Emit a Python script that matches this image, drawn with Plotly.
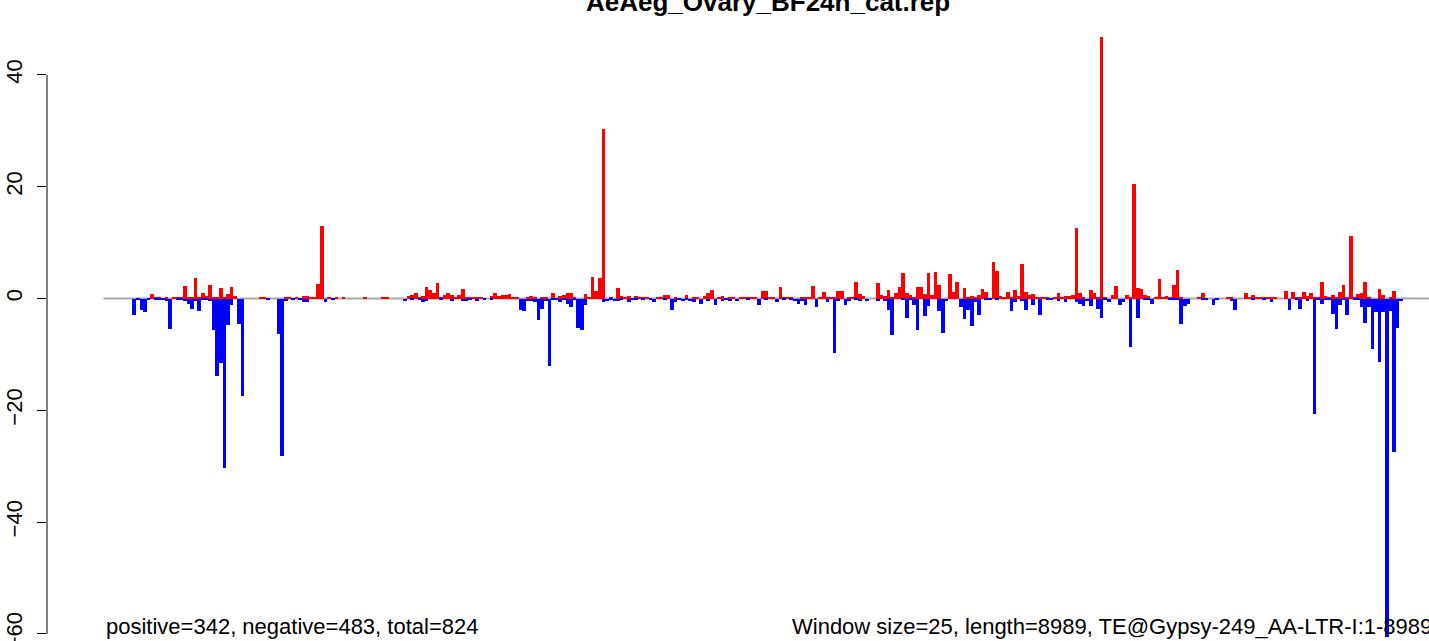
import plotly.graph_objects as go

# ---- data ----
title_text = "AeAeg_Ovary_BF24h_cat.rep"
left_note = "positive=342, negative=483, total=824"
right_note = "Window size=25, length=8989, TE@Gypsy-249_AA-LTR-I:1-8989"
y_tick_vals = [-60, -40, -20, 0, 20, 40]
y_tick_text = ["\u221260", "\u221240", "\u221220", "0", "20", "40"]
n_windows = 360

# sparse readings: window index -> value
pos_readings = {
    13: 0.8, 14: 0.3, 15: 0.2, 17: 0.2, 19: 0.2, 20: 0.2, 21: 0.3, 22: 2.3, 23: 0.2, 24: 0.3,
    25: 3.7, 26: 0.2, 27: 1.0, 28: 0.5, 29: 2.4, 30: 0.3, 31: 0.3, 32: 1.9, 33: 0.2, 34: 0.8,
    35: 2.1, 36: 0.5, 43: 0.1, 44: 0.1, 50: 0.25, 51: 0.1, 53: 0.1, 55: 0.5, 56: 0.5, 57: 0.2,
    58: 0.3, 59: 2.6, 60: 13.0, 62: 0.1, 64: 0.2, 66: 0.1, 72: 0.2, 77: 0.2, 78: 0.2,
    84: 0.5, 85: 0.7, 86: 1.0, 87: 0.2, 88: 0.5, 89: 2.1, 90: 1.6, 91: 1.0, 92: 2.8, 93: 0.3,
    94: 0.7, 95: 1.0, 96: 0.7, 97: 0.3, 98: 0.7, 99: 1.7, 100: 0.1, 101: 0.1, 102: 0.2, 103: 0.3,
    104: 0.1, 107: 0.5, 108: 1.0, 109: 0.5, 110: 0.6, 111: 0.7, 112: 0.8, 113: 0.1, 114: 0.1,
    117: 0.1, 118: 0.5, 119: 0.2, 121: 0.2, 122: 0.2, 124: 1.0, 126: 0.5, 127: 0.7, 128: 1.0,
    129: 0.9, 130: 0.1, 133: 0.8, 134: 0.2, 135: 3.9, 136: 1.4, 137: 3.7, 138: 30.3, 140: 0.1,
    142: 1.9, 143: 0.5, 144: 0.1, 145: 0.5, 147: 0.5, 148: 0.3, 149: 0.1, 150: 0.3, 153: 0.1,
    154: 0.1, 155: 0.65, 156: 0.65, 158: 0.1, 161: 0.7, 163: 0.2, 164: 0.3, 166: 0.5, 167: 0.9,
    168: 1.55, 170: 0.1, 171: 0.5, 173: 0.2, 174: 0.2, 176: 0.3, 177: 0.3, 178: 0.2, 179: 0.2,
    180: 0.2, 182: 1.4, 183: 1.4, 184: 0.3, 185: 0.3, 187: 2.1, 188: 0.2, 189: 0.3, 190: 0.2,
    193: 0.2, 194: 0.2, 195: 0.3, 196: 2.3, 198: 0.2, 199: 1.2, 200: 0.2, 201: 0.3, 202: 0.3,
    203: 1.4, 204: 1.4, 206: 0.2, 207: 0.3, 208: 3.0, 209: 0.8, 210: 0.5, 214: 2.8, 215: 0.7,
    216: 0.5, 217: 1.55, 218: 0.3, 219: 0.9, 220: 2.1, 221: 4.5, 222: 1.0, 223: 0.65, 224: 0.1,
    225: 2.1, 226: 2.1, 227: 0.8, 228: 4.6, 229: 0.65, 230: 4.8, 231: 2.4, 234: 4.4, 235: 1.2,
    236: 3.0, 238: 1.9, 239: 0.35, 240: 0.5, 241: 0.3, 242: 0.65, 243: 1.7, 244: 1.1, 246: 6.6,
    247: 5.0, 248: 0.5, 249: 0.1, 250: 1.2, 251: 0.3, 252: 1.55, 253: 0.5, 254: 6.2, 255: 1.2,
    256: 0.65, 257: 0.8, 258: 0.3, 259: 0.3, 260: 0.1, 261: 0.1, 263: 0.2, 264: 1.0, 265: 0.3,
    266: 0.5, 267: 0.5, 268: 0.65, 269: 12.6, 270: 1.0, 271: 0.3, 273: 1.55, 274: 1.0, 275: 0.3,
    276: 46.7, 277: 0.1, 279: 0.65, 280: 2.3, 283: 0.65, 284: 0.3, 285: 20.5, 286: 1.9, 287: 1.7,
    288: 0.65, 289: 0.5, 291: 0.1, 292: 3.5, 293: 0.1, 294: 0.5, 295: 0.3, 296: 2.4, 297: 5.1,
    298: 0.1, 303: 0.3, 304: 1.0, 311: 0.1, 312: 0.1, 316: 1.0, 317: 0.1, 318: 0.65, 319: 0.3,
    320: 0.3, 321: 0.1, 322: 0.1, 323: 0.1, 324: 0.1, 327: 1.4, 329: 1.2, 330: 0.1, 331: 0.1,
    332: 1.2, 333: 0.5, 334: 1.0, 335: 0.1, 336: 0.1, 337: 3.0, 338: 0.5, 339: 0.3, 340: 0.55,
    341: 0.1, 342: 1.2, 343: 2.4, 344: 0.1, 345: 11.2, 346: 0.1, 347: 0.85, 348: 1.0, 349: 2.9,
    350: 0.1, 353: 1.7, 354: 0.65, 356: 0.3, 357: 1.4,
}
neg_readings = {
    8: -2.9, 9: -0.3, 10: -2.1, 11: -2.5, 12: -0.1, 14: -0.2, 15: -0.2, 16: -0.1, 17: -0.5,
    18: -5.5, 20: -0.1, 21: -0.2, 22: -0.5, 23: -0.9, 24: -1.8, 25: -0.5, 26: -2.3, 27: -0.2,
    28: -0.3, 29: -0.5, 30: -5.7, 31: -13.8, 32: -11.6, 33: -30.4, 34: -4.8, 35: -1.1, 37: -4.5,
    38: -17.5, 45: -0.2, 48: -6.3, 49: -28.1, 50: -0.5, 52: -0.2, 54: -0.2, 55: -0.6, 56: -0.7,
    61: -0.7, 63: -0.1, 83: -0.5, 85: -0.1, 87: -0.2, 88: -0.7, 89: -0.4, 93: -0.2, 96: -0.4,
    99: -0.4, 100: -0.5, 101: -0.2, 103: -0.5, 105: -0.1, 107: -0.2, 115: -2.0, 116: -2.3,
    117: -0.4, 118: -0.4, 119: -0.7, 120: -3.8, 121: -1.8, 122: -0.4, 123: -12.0, 124: -0.3,
    125: -0.2, 126: -0.7, 127: -0.2, 128: -0.9, 129: -1.6, 130: -0.2, 131: -5.2, 132: -5.7,
    133: -1.2, 138: -0.7, 139: -0.5, 140: -0.2, 141: -0.4, 142: -0.4, 143: -0.3, 145: -0.7,
    146: -0.2, 147: -0.1, 149: -0.2, 151: -0.3, 152: -0.7, 155: -0.1, 157: -2.1, 158: -0.7,
    159: -0.2, 160: -0.4, 161: -0.1, 162: -0.4, 163: -0.7, 165: -0.9, 167: -0.4, 169: -1.1,
    171: -0.4, 172: -0.1, 173: -0.5, 175: -0.5, 178: -0.2, 181: -1.1, 183: -0.1, 186: -0.7,
    188: -0.1, 190: -0.2, 191: -0.5, 192: -0.9, 193: -0.5, 194: -1.1, 197: -1.6, 200: -0.7,
    202: -9.7, 203: -0.4, 205: -1.25, 206: -0.5, 208: -0.1, 209: -0.4, 211: -0.5, 214: -0.4,
    216: -0.5, 217: -2.1, 218: -6.6, 221: -0.2, 222: -3.4, 223: -0.2, 224: -1.1, 225: -5.7,
    227: -3.2, 228: -1.4, 231: -2.3, 232: -6.1, 233: -0.5, 237: -1.6, 238: -3.75, 239: -2.0,
    240: -5.0, 241: -0.7, 242: -2.9, 244: -0.35, 245: -0.2, 247: -0.35, 251: -2.3, 252: -0.7,
    254: -0.5, 255: -2.1, 257: -1.25, 259: -2.9, 261: -0.1, 262: -0.35, 264: -0.5, 266: -0.7,
    269: -0.7, 270: -1.0, 271: -1.4, 272: -0.5, 273: -1.4, 275: -1.8, 276: -3.4, 277: -0.1,
    278: -0.7, 281: -1.25, 282: -0.7, 284: -8.6, 286: -3.4, 288: -0.2, 289: -0.35, 290: -0.9,
    295: -0.2, 296: -0.1, 297: -0.1, 298: -4.5, 299: -1.4, 300: -1.0, 304: -0.2, 305: -0.35,
    307: -1.25, 308: -0.1, 312: -0.5, 313: -2.1, 318: -0.2, 321: -0.2, 323: -0.7, 328: -2.1,
    330: -0.2, 331: -1.8, 333: -0.5, 335: -20.7, 336: -0.2, 337: -0.9, 338: -0.2, 339: -0.2,
    340: -2.7, 341: -5.4, 342: -1.1, 343: -0.2, 344: -3.0, 346: -0.2, 347: -0.3, 348: -1.6,
    349: -4.3, 350: -1.6, 351: -9.1, 352: -2.5, 353: -11.3, 354: -2.5, 355: -60.5, 356: -2.2,
    357: -27.4, 358: -5.2, 359: -0.5,
}

windows = list(range(n_windows))
pos_values = [pos_readings.get(i, 0.0) for i in windows]
neg_values = [neg_readings.get(i, 0.0) for i in windows]

# ---- figure ----
W, H = 1429, 641
L = 47
px_per_bar = 3.61
first_bar_left_px = 103.5
x_lo = -0.5 - (first_bar_left_px - L) / px_per_bar
x_hi = x_lo + (W - L) / px_per_bar

zero_px = 298.5
px_per_unit = 5.59
y_hi = zero_px / px_per_unit
y_lo = -(H - zero_px) / px_per_unit

FONT = "Liberation Sans, Arial, Helvetica, sans-serif"

fig = go.Figure()
fig.add_trace(go.Bar(x=windows, y=pos_values, width=1, marker=dict(color="#FF0000", line=dict(width=0)),
                     showlegend=False, hoverinfo="skip"))
fig.add_trace(go.Bar(x=windows, y=neg_values, width=1, marker=dict(color="#0000FF", line=dict(width=0)),
                     showlegend=False, hoverinfo="skip"))

shapes = [
    # baseline
    dict(type="line", xref="x", yref="y", x0=-0.5, x1=x_hi, y0=0, y1=0,
         line=dict(color="#a6a6a6", width=2), layer="below"),
    # y axis line (R style: from first to last tick)
    dict(type="line", xref="paper", yref="y", x0=0, x1=0, y0=y_tick_vals[0], y1=y_tick_vals[-1],
         line=dict(color="black", width=1)),
]

annotations = [
    dict(text=title_text, xref="paper", yref="paper", x=(768 - L) / (W - L), y=1.0,
         xanchor="center", yanchor="middle", showarrow=False, yshift=-2,
         font=dict(family=FONT, size=26, color="black", weight="bold")),
    dict(text=left_note, xref="paper", yref="paper", x=(103.5 - L) / (W - L), y=1 - 626 / H,
         xanchor="left", yanchor="middle", showarrow=False,
         font=dict(family=FONT, size=22, color="black")),
    dict(text=right_note, xref="paper", yref="paper", x=(790 - L) / (W - L), y=1 - 626 / H,
         xanchor="left", yanchor="middle", showarrow=False,
         font=dict(family=FONT, size=22, color="black")),
]

fig.update_layout(
    width=W, height=H,
    margin=dict(l=L, r=0, t=0, b=0, pad=0, autoexpand=False),
    paper_bgcolor="white", plot_bgcolor="white",
    barmode="overlay", bargap=0,
    xaxis=dict(range=[x_lo, x_hi], visible=False, fixedrange=True, automargin=False),
    yaxis=dict(range=[y_lo, y_hi], showgrid=False, zeroline=False, showline=False,
               automargin=False,
               tickmode="array", tickvals=y_tick_vals, ticktext=y_tick_text,
               ticks="outside", ticklen=9, tickwidth=1, tickcolor="black",
               tickangle=-90, ticklabelstandoff=6, ticklabeloverflow="allow",
               tickfont=dict(family=FONT, size=22, color="black"), fixedrange=True),
    shapes=shapes, annotations=annotations,
)

# the page's default 8px body margin would shift the figure; remove it
fig.write_html("out.html", config={"displayModeBar": False},
               post_script="document.body.style.margin='0';document.body.style.overflow='hidden';")
